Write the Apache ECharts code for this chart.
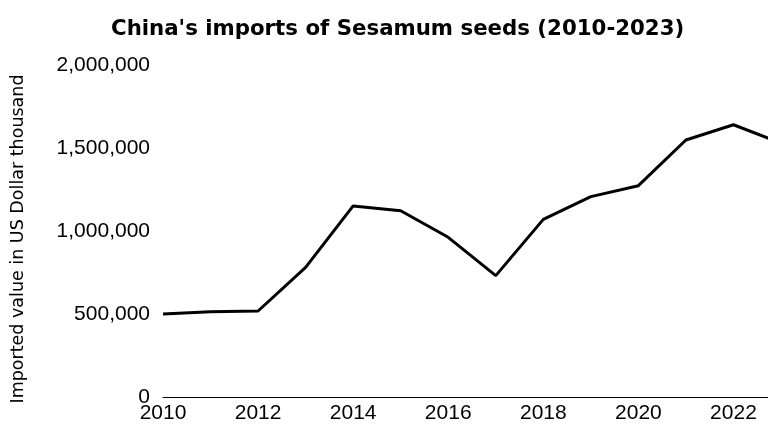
<!DOCTYPE html>
<html>
<head>
<meta charset="utf-8">
<script src="https://cdn.jsdelivr.net/npm/echarts@6/dist/echarts.min.js"></script>
<style>
html,body{margin:0;padding:0;background:#fff;overflow:hidden;width:768px;height:427px;}
#chart{width:781px;height:427px;}
</style>
</head>
<body>
<div id="chart"></div>
<script>
const years = ['2010','2011','2012','2013','2014','2015','2016','2017','2018','2019','2020','2021','2022','2023'];
const importValues = [500000, 514000, 518000, 781000, 1151000, 1122000, 962000, 731000, 1070000, 1207000, 1273000, 1548000, 1640000, 1530000];
const yTicks = [0, 500000, 1000000, 1500000, 2000000];

const chart = echarts.init(document.getElementById('chart'), null, {renderer: 'canvas'});
chart.setOption({
  backgroundColor: '#fff',
  animation: false,
  title: {
    text: "China's imports of Sesamum seeds (2010-2023)",
    left: 106,
    top: 14,
    textStyle: {fontFamily: 'DejaVu Sans', fontWeight: 'bold', fontSize: 21.3, color: '#000'}
  },
  grid: {left: 163, right: 0, top: 65, bottom: 30, containLabel: false},
  xAxis: {
    type: 'category',
    data: years,
    boundaryGap: false,
    axisLine: {show: true, lineStyle: {color: '#000', width: 1}},
    axisTick: {show: false},
    axisLabel: {interval: 1, color: '#000', fontFamily: 'Liberation Sans', fontSize: 21, margin: 6},
    splitLine: {show: false}
  },
  yAxis: {
    type: 'value',
    min: yTicks[0],
    max: yTicks[yTicks.length - 1],
    interval: yTicks[1] - yTicks[0],
    name: 'Imported value in US Dollar thousand',
    nameLocation: 'middle',
    nameRotate: 90,
    nameGap: 136,
    nameTextStyle: {fontFamily: 'DejaVu Sans', fontSize: 17.5, color: '#000', padding: [0, 16, 0, 0]},
    axisLine: {show: false},
    axisTick: {show: false},
    splitLine: {show: false},
    axisLabel: {
      color: '#000', fontFamily: 'Liberation Sans', fontSize: 21, margin: 13,
      formatter: v => v.toLocaleString('en-US')
    }
  },
  series: [{
    type: 'line',
    data: importValues,
    symbol: 'none',
    lineStyle: {color: '#000', width: 3},
    clip: true
  }]
});
</script>
</body>
</html>
